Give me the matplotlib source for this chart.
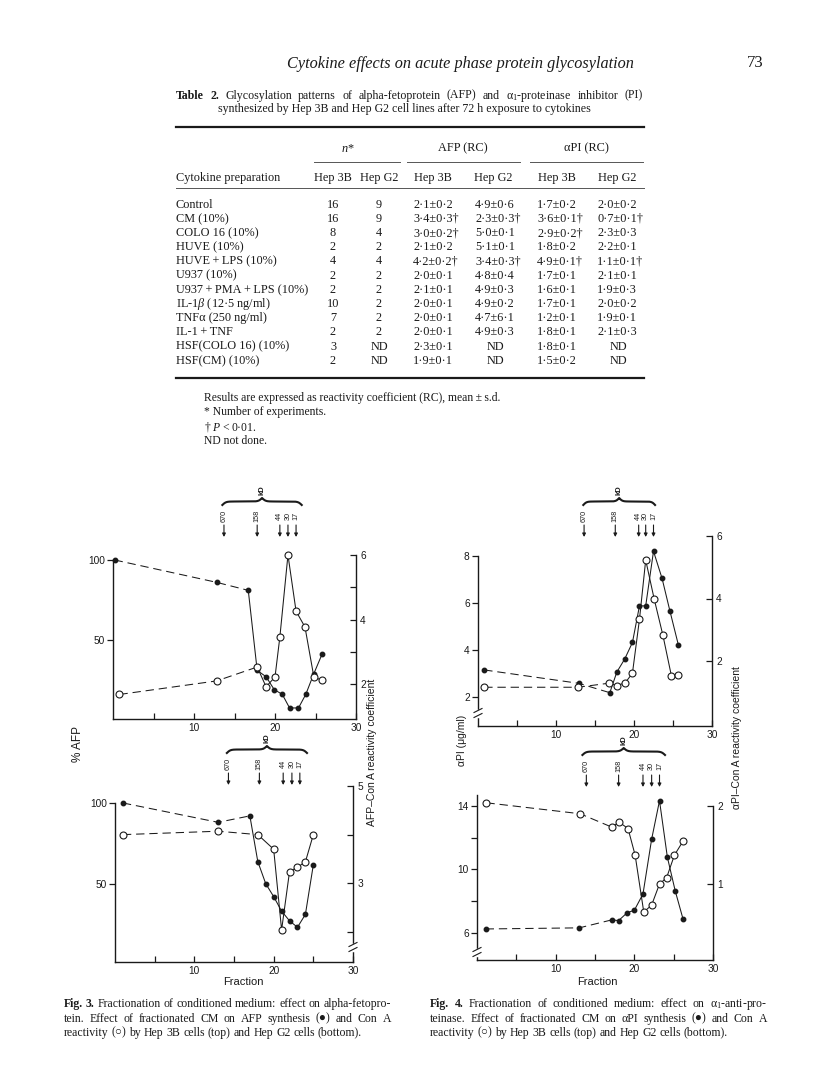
import numpy as np
import matplotlib
matplotlib.use("Agg")
import matplotlib.pyplot as plt
from matplotlib.lines import Line2D
from matplotlib.transforms import blended_transform_factory

W, H = 816, 1088
SERIF = ["Liberation Serif", "DejaVu Serif"]
SANS = ["Liberation Sans", "DejaVu Sans"]
INK = "#1a1a1a"

plt.rcParams["font.family"] = SANS
plt.rcParams["mathtext.fontset"] = "custom"
plt.rcParams["mathtext.rm"] = "Liberation Serif"
plt.rcParams["mathtext.it"] = "Liberation Serif:italic"
plt.rcParams["mathtext.bf"] = "Liberation Serif:bold"
plt.rcParams["lines.scale_dashes"] = False

# ---------------- Table 2 ----------------
T = "\u2009"
preps = ["Control", "CM (10%)", "COLO 16 (10%)", "HUVE (10%)",
         f"HUVE{T}+{T}LPS (10%)", "U937 (10%)", f"U937{T}+{T}PMA{T}+{T}LPS (10%)",
         r"IL-1$\beta$ (12·5 ng/ml)", "TNFα (250 ng/ml)", f"IL-1{T}+{T}TNF",
         "HSF(COLO 16) (10%)", "HSF(CM) (10%)"]
n_3b = ["16", "16", "8", "2", "4", "2", "2", "10", "7", "2", "3", "2"]
n_g2 = ["9", "9", "4", "2", "4", "2", "2", "2", "2", "2", "ND", "ND"]
afp_3b = ["2·1±0·2", "3·4±0·3†", "3·0±0·2†", "2·1±0·2", "4·2±0·2†", "2·0±0·1",
          "2·1±0·1", "2·0±0·1", "2·0±0·1", "2·0±0·1", "2·3±0·1", "1·9±0·1"]
afp_g2 = ["4·9±0·6", "2·3±0·3†", "5·0±0·1", "5·1±0·1", "3·4±0·3†", "4·8±0·4",
          "4·9±0·3", "4·9±0·2", "4·7±6·1", "4·9±0·3", "ND", "ND"]
api_3b = ["1·7±0·2", "3·6±0·1†", "2·9±0·2†", "1·8±0·2", "4·9±0·1†", "1·7±0·1",
          "1·6±0·1", "1·7±0·1", "1·2±0·1", "1·8±0·1", "1·8±0·1", "1·5±0·2"]
api_g2 = ["2·0±0·2", "0·7±0·1†", "2·3±0·3", "2·2±0·1", "1·1±0·1†", "2·1±0·1",
          "1·9±0·3", "2·0±0·2", "1·9±0·1", "2·1±0·3", "ND", "ND"]

# ---------------- Fig. 3 / Fig. 4 data (fraction number vs value) ----------------
mw_labels = ["670", "158", "44", "30", "17"]

# Fig 3 top (Hep 3B): filled = % AFP, open = Con A reactivity coefficient
f3a_afp_x = [0.2, 12.8, 16.7, 17.8, 18.9, 19.9, 20.9, 21.8, 22.9, 23.8, 24.8, 25.8]
f3a_afp_y = [100, 86, 81, 31, 27, 19, 16, 7.5, 7.5, 16, 29, 41]
f3a_rc_x = [0.8, 12.8, 17.8, 18.9, 20.0, 20.6, 21.6, 22.6, 23.7, 24.8, 25.8]
f3a_rc_y = [1.68, 2.1, 2.53, 1.92, 2.22, 3.46, 6.0, 4.26, 3.77, 2.22, 2.12]
f3a_mw = [13.7, 17.8, 20.6, 21.6, 22.6]
f3a_brace = (13.5, 23.3)

# Fig 3 bottom (Hep G2)
f3b_afp_x = [1, 13, 17, 18, 19, 20, 21, 22, 23, 24, 25]
f3b_afp_y = [100, 88, 92, 63.7, 50, 42, 33, 27, 23, 31, 61.7]
f3b_rc_x = [1, 13, 18, 20, 21, 22, 23, 24, 25]
f3b_rc_y = [4.0, 4.07, 4.0, 3.7, 2.04, 3.24, 3.33, 3.44, 4.0]
f3b_mw = [14.3, 18.2, 21.2, 22.3, 23.3]
f3b_brace = (14.1, 24.2)

# Fig 4 top (Hep 3B): filled = aPI ug/ml, open = Con A reactivity coefficient
f4a_api_x = [0.8, 12.9, 16.9, 17.8, 18.8, 19.8, 20.7, 21.5, 22.5, 23.6, 24.6, 25.7]
f4a_api_y = [3.14, 2.57, 2.17, 3.05, 3.6, 4.31, 5.87, 5.87, 8.2, 7.04, 5.66, 4.19]
f4a_rc_x = [0.8, 12.8, 16.8, 17.8, 18.9, 19.8, 20.7, 21.5, 22.6, 23.7, 24.8, 25.7]
f4a_rc_y = [1.16, 1.16, 1.29, 1.21, 1.31, 1.61, 3.33, 5.23, 3.97, 2.83, 1.52, 1.55]
f4a_mw = [13.6, 17.6, 20.6, 21.5, 22.5]
f4a_brace = (13.5, 22.7)

# Fig 4 bottom (Hep G2)
f4b_api_x = [1.1, 13, 17.1, 18, 19.1, 20, 21.1, 22.2, 23.2, 24.2, 25.2, 26.2]
f4b_api_y = [6.23, 6.3, 6.8, 6.76, 7.26, 7.41, 8.44, 11.9, 14.33, 10.76, 8.63, 6.84]
f4b_rc_x = [1.2, 13.1, 17.1, 18.1, 19.2, 20.1, 21.2, 22.2, 23.2, 24.1, 25.1, 26.2]
f4b_rc_y = [2.04, 1.9, 1.73, 1.79, 1.71, 1.37, 0.64, 0.73, 1.0, 1.08, 1.37, 1.55]
f4b_mw = [13.9, 18.0, 21.1, 22.2, 23.2]
f4b_brace = (13.4, 23.9)

fig = plt.figure(figsize=(W / 100, H / 100), dpi=100)
renderer = fig.canvas.get_renderer()


def fx(px):
    return px / W


def fy(py):
    return 1 - py / H


def put(x, y, s, size, **kw):
    # y is the visual middle of a text line; shift down to its baseline
    kw.setdefault("family", SERIF)
    kw.setdefault("color", INK)
    if "va" not in kw:
        kw["va"] = "baseline"
        y = y + 0.3 * size * 100 / 72
    return fig.text(fx(x), fy(y), s, fontsize=size, **kw)


def hrule(x0, x1, y, lw, color=INK):
    fig.add_artist(Line2D([fx(x0), fx(x1)], [fy(y), fy(y)], lw=lw, color=color,
                          transform=fig.transFigure))


def justify(words, x0, x1, y, size, last=False):
    arts = [put(0, y, w, size, fontweight=wt, ha="left") for w, wt in words]
    widths = [a.get_window_extent(renderer).width for a in arts]
    space = size * 100 / 72 * 0.25
    gap = space if last else max((x1 - x0 - sum(widths)) / (len(arts) - 1), space * 0.6)
    x = x0
    for a, w in zip(arts, widths):
        a.set_x(fx(x))
        x += w + gap


def words(s, nbold=0):
    toks = s.split()
    return [(t, "bold" if i < nbold else "normal") for i, t in enumerate(toks)]


# ---- page header + table ----
put(460, 63, "Cytokine effects on acute phase protein glycosylation", 11.7,
    style="italic", ha="center")
put(755, 62, "73", 12, ha="center")

justify(words("Table 2. Glycosylation patterns of alpha-fetoprotein (AFP) and "
              "α$_1$-proteinase inhibitor (PI)", 2), 176, 643, 95, 8.6)
put(404, 108, "synthesized by Hep 3B and Hep G2 cell lines after 72 h exposure to cytokines",
    8.6, ha="center")

hrule(176, 644, 127, 1.6)
hrule(314, 400, 162, 0.7, "#555555")
hrule(407, 520, 162, 0.7, "#555555")
hrule(530, 643, 162, 0.7, "#555555")
hrule(176, 644, 188, 0.7, "#555555")
hrule(176, 644, 378, 1.6)

put(348, 148, "$n$*", 8.8, ha="center")
put(463, 148, "AFP (RC)", 8.8, ha="center")
put(586, 148, "αPI (RC)", 8.8, ha="center")
put(176, 177, "Cytokine preparation", 8.8, ha="left")
for xc, lab in zip([333, 379, 433, 493, 557, 617], ["Hep 3B", "Hep G2"] * 3):
    put(xc, 177, lab, 8.8, ha="center")

val_left = [413, 475, 537, 597]
val_mid = [433, 495, 557, 618]
for i, prep in enumerate(preps):
    y = 204 + i * 14.2
    put(176, y, prep, 8.8, ha="left")
    put(333, y, n_3b[i], 8.8, ha="center")
    put(379, y, n_g2[i], 8.8, ha="center")
    for j, col in enumerate([afp_3b, afp_g2, api_3b, api_g2]):
        if col[i] == "ND":
            put(val_mid[j], y, "ND", 8.8, ha="center")
        else:
            put(val_left[j], y, col[i], 8.8, ha="left")

put(204, 397, "Results are expressed as reactivity coefficient (RC), mean\u2009±\u2009s.d.", 8.4)
put(204, 412, "* Number of experiments.", 8.4)
put(204, 427, "† $P$\u2009<\u20090·01.", 8.4)
put(204, 441, "ND not done.", 8.4)


# ---- plotting helpers ----
def panel(box, yl, yr, ltop, rtop, lticks, llabs, rticks, rlabs):
    l, r, t, b = box
    ax = fig.add_axes([fx(l), fy(b), fx(r) - fx(l), fy(t) - fy(b)])
    ax2 = ax.twinx()
    ax.set_xlim(0, 30)
    ax.set_ylim(*yl)
    ax2.set_ylim(*yr)
    for s in ["top", "right"]:
        ax.spines[s].set_visible(False)
    for s in ["top", "left", "bottom"]:
        ax2.spines[s].set_visible(False)
    ax.spines["left"].set_bounds(yl[0], ltop)
    ax2.spines["right"].set_bounds(yr[0], rtop)
    for sp in [ax.spines["left"], ax.spines["bottom"], ax2.spines["right"]]:
        sp.set_linewidth(1.0)
        sp.set_color(INK)
    ax.set_xticks([5, 10, 15, 20, 25, 30])
    ax.set_xticklabels(["", "10", "", "20", "", "30"])
    ax.set_yticks(lticks)
    ax.set_yticklabels(llabs)
    ax2.set_yticks(rticks)
    ax2.set_yticklabels(rlabs)
    ax.tick_params(axis="x", direction="in", length=4, width=0.9, pad=3,
                   labelsize=7.3, colors=INK)
    ax.tick_params(axis="y", direction="out", length=4, width=0.9, pad=2,
                   labelsize=7.3, colors=INK)
    ax2.tick_params(axis="y", direction="in", length=4, width=0.9, pad=3,
                    labelsize=7.3, colors=INK)
    return ax, ax2


def series(axis, xs, ys, filled, n_dash=3):
    axis.plot(xs[:n_dash], ys[:n_dash], color=INK, lw=0.75, ls=(0, (6, 3.5)),
              clip_on=False)
    axis.plot(xs[n_dash - 1:], ys[n_dash - 1:], color=INK, lw=0.75, ls="-",
              clip_on=False)
    if filled:
        axis.plot(xs, ys, "o", ms=3.2, mfc=INK, mec=INK, ls="none",
                  clip_on=False, zorder=4)
    else:
        axis.plot(xs, ys, "o", ms=5, mfc="white", mec=INK, mew=0.8, ls="none",
                  clip_on=False, zorder=4)


def markers(ax, xs, base, brace):
    tr = blended_transform_factory(ax.transData, fig.transFigure)
    for x, lab in zip(xs, mw_labels):
        ax.text(x, fy(base), lab, transform=tr, rotation=90, ha="center",
                va="center", fontsize=5.2, color=INK, clip_on=False)
        ax.annotate("", xy=(x, fy(base + 21)), xytext=(x, fy(base + 9)),
                    xycoords=tr, textcoords=tr, annotation_clip=False,
                    arrowprops=dict(arrowstyle="-|>", color=INK, lw=0.8,
                                    mutation_scale=5, shrinkA=0, shrinkB=0))
    # curly brace
    half = np.linspace(0, 0.5, 121)
    beta = 45
    yh = 1 / (1 + np.exp(-beta * (half - half[0]))) + 1 / (1 + np.exp(-beta * (half - half[-1])))
    yh = (yh - yh[0]) / (yh[-1] - yh[0])
    ys = np.concatenate([yh, yh[-2::-1]])
    t = np.linspace(0, 1, len(ys))
    xa, xb = brace
    bx = xa + (xb - xa) * t
    by = fy(base - 11) + (fy(base - 18) - fy(base - 11)) * ys
    fig.add_artist(Line2D(bx, by, transform=tr, color=INK, lw=1.5))
    ax.text((xa + xb) / 2, fy(base - 26), "kD", transform=tr, rotation=90,
            ha="center", va="center", fontsize=5.5, fontweight="bold",
            color=INK, clip_on=False)


def axis_break(xp, yp):
    fig.add_artist(Line2D([fx(xp)] * 2, [fy(yp - 2.5), fy(yp + 2.5)], color="white",
                          lw=2.5, transform=fig.transFigure))
    for d in (-2.5, 2.5):
        fig.add_artist(Line2D([fx(xp - 4), fx(xp + 4)], [fy(yp + d + 2), fy(yp + d - 2)],
                              color=INK, lw=0.8, transform=fig.transFigure))


# ---- Fig 3 top ----
ax, ax2 = panel((113, 356, 555, 719), (0.6, 103.1), (0.92, 6), 100, 6,
                [50, 100], ["50", "100"], [2, 3, 4, 5, 6], ["2", "", "4", "", "6"])
series(ax, f3a_afp_x, f3a_afp_y, True)
series(ax2, f3a_rc_x, f3a_rc_y, False)
markers(ax, f3a_mw, 516, f3a_brace)

# ---- Fig 3 bottom ----
ax, ax2 = panel((115, 353, 786, 962), (1.5, 110.5), (1.38, 5), 100, 5,
                [50, 100], ["50", "100"], [2, 3, 4, 5], ["", "3", "", "5"])
series(ax, f3b_afp_x, f3b_afp_y, True)
series(ax2, f3b_rc_x, f3b_rc_y, False)
markers(ax, f3b_mw, 764, f3b_brace)
axis_break(353, 947)

# ---- Fig 4 top ----
ax, ax2 = panel((478, 712, 536, 726), (0.75, 8.85), (-0.08, 6), 8, 6,
                [2, 4, 6, 8], ["2", "4", "6", "8"], [2, 4, 6], ["2", "4", "6"])
series(ax, f4a_api_x, f4a_api_y, True)
series(ax2, f4a_rc_x, f4a_rc_y, False)
markers(ax, f4a_mw, 516, f4a_brace)
axis_break(478, 713)

# ---- Fig 4 bottom ----
ax, ax2 = panel((477, 713, 795, 960), (4.27, 14.69), (0.026, 2.14), 14.69, 2,
                [6, 8, 10, 12, 14], ["6", "", "10", "", "14"], [1, 2], ["1", "2"])
series(ax, f4b_api_x, f4b_api_y, True)
series(ax2, f4b_rc_x, f4b_rc_y, False)
markers(ax, f4b_mw, 766, f4b_brace)
axis_break(477, 952)

# ---- axis titles ----
put(78, 744, "% AFP", 8.5, family=SANS, rotation=90, ha="center", va="center")
put(372, 752, "AFP–Con A reactivity coefficient", 7.5, family=SANS, rotation=90,
    ha="center", va="center")
put(462, 740, "αPI (μg/ml)", 7.5, family=SANS, rotation=90, ha="center", va="center")
put(737, 738, "αPI–Con A reactivity coefficient", 7.5, family=SANS, rotation=90,
    ha="center", va="center")
put(243, 982, "Fraction", 8, family=SANS, ha="center", va="center")
put(597, 982, "Fraction", 8, family=SANS, ha="center", va="center")

# ---- figure captions ----
CAP = 8.5
justify(words("Fig. 3. Fractionation of conditioned medium: effect on alpha-fetopro-", 2),
        64, 391, 1003, CAP)
justify(words("tein. Effect of fractionated CM on AFP synthesis (●) and Con A"),
        64, 391, 1018, CAP)
justify(words("reactivity (○) by Hep 3B cells (top) and Hep G2 cells (bottom)."),
        64, 391, 1032, CAP, last=True)
justify(words("Fig. 4. Fractionation of conditioned medium: effect on α$_1$-anti-pro-", 2),
        430, 767, 1003, CAP)
justify(words("teinase. Effect of fractionated CM on αPI synthesis (●) and Con A"),
        430, 767, 1018, CAP)
justify(words("reactivity (○) by Hep 3B cells (top) and Hep G2 cells (bottom)."),
        430, 767, 1032, CAP, last=True)

fig.savefig("out.png", dpi=100)
